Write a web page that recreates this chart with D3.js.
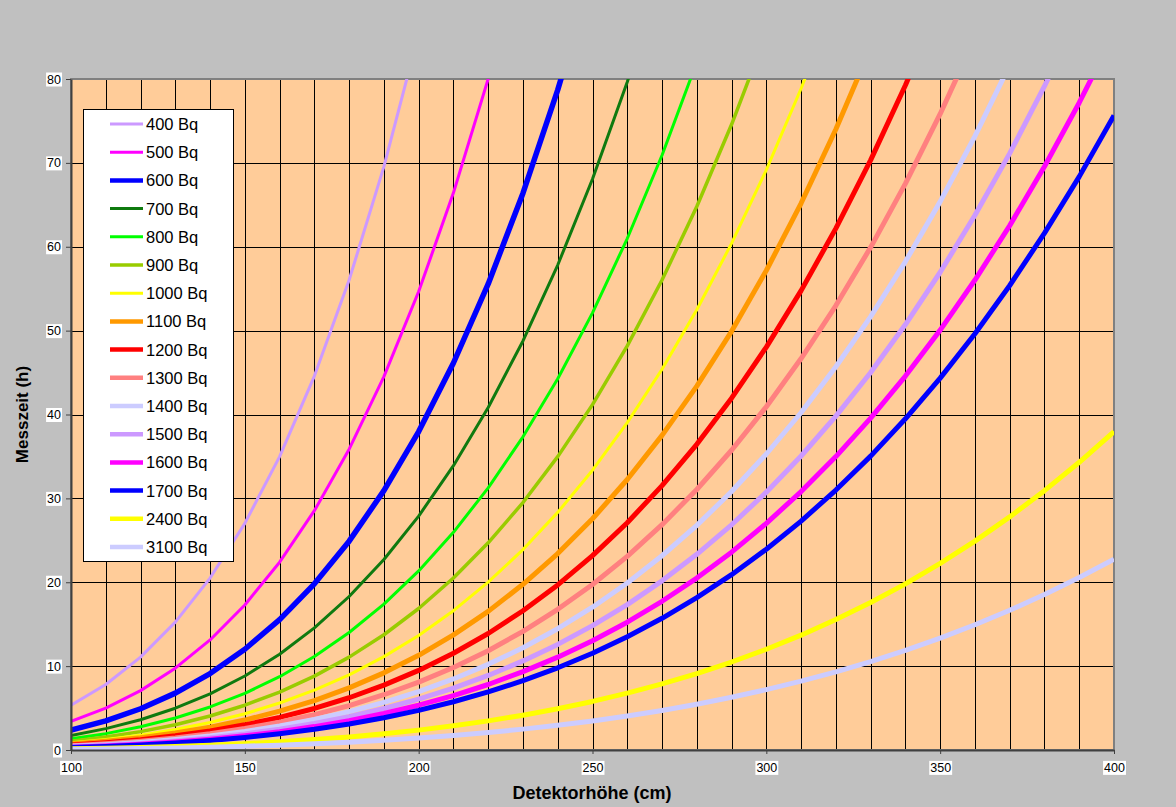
<!DOCTYPE html>
<html>
<head>
<meta charset="utf-8">
<script src="https://cdn.jsdelivr.net/npm/d3@7/dist/d3.min.js"></script>
<style>
  html, body { margin: 0; padding: 0; background: #c0c0c0; }
  svg { display: block; }
  text { font-family: "Liberation Sans", Arial, sans-serif; }
</style>
</head>
<body>
<svg id="chart" width="1176" height="807"></svg>
<script>
// Detektorhöhe (cm) für jeden Messpunkt
const hoehen = [100, 110, 120, 130, 140, 150, 160, 170, 180, 190, 200, 210, 220, 230, 240, 250,
                260, 270, 280, 290, 300, 310, 320, 330, 340, 350, 360, 370, 380, 390, 400];

// Messzeit (h) je Aktivität; jede Reihe endet mit dem ersten Wert oberhalb der Achse
const bq400  = [5.34, 7.81, 11.07, 15.24, 20.50, 27.02, 34.98, 44.58, 56.03, 69.56, 85.40];
const bq500  = [3.42, 5.00, 7.08, 9.76, 13.12, 17.29, 22.39, 28.53, 35.86, 44.52, 54.66, 66.43, 80.02, 95.59];
const bq600  = [2.37, 3.47, 4.92, 6.78, 9.11, 12.01, 15.55, 19.81, 24.90, 30.92, 37.96, 46.14, 55.57, 66.38, 78.70, 92.66];
const bq700  = [1.74, 2.55, 3.61, 4.98, 6.70, 8.82, 11.42, 14.56, 18.30, 22.71, 27.89, 33.90, 40.83, 48.77, 57.82, 68.08, 79.64, 92.62];
const bq800  = [1.33, 1.95, 2.77, 3.81, 5.13, 6.76, 8.74, 11.14, 14.01, 17.39, 21.35, 25.95, 31.26, 37.34, 44.27, 52.12, 60.98, 70.91, 82.02];
const bq900  = [1.05, 1.54, 2.19, 3.01, 4.05, 5.34, 6.91, 8.81, 11.07, 13.74, 16.87, 20.50, 24.70, 29.50, 34.98, 41.18, 48.18, 56.03, 64.80, 74.57, 85.40];
const bq1000 = [0.85, 1.25, 1.77, 2.44, 3.28, 4.32, 5.60, 7.13, 8.96, 11.13, 13.66, 16.61, 20.01, 23.90, 28.33, 33.36, 39.03, 45.39, 52.49, 60.40, 69.17, 78.87, 89.55];
const bq1100 = [0.71, 1.03, 1.46, 2.02, 2.71, 3.57, 4.63, 5.89, 7.41, 9.20, 11.29, 13.73, 16.53, 19.75, 23.42, 27.57, 32.25, 37.51, 43.38, 49.92, 57.17, 65.18, 74.01, 83.70];
const bq1200 = [0.59, 0.87, 1.23, 1.69, 2.28, 3.00, 3.89, 4.95, 6.23, 7.73, 9.49, 11.53, 13.89, 16.60, 19.68, 23.17, 27.10, 31.52, 36.45, 41.95, 48.04, 54.77, 62.19, 70.33, 79.25, 89.00];
const bq1300 = [0.51, 0.74, 1.05, 1.44, 1.94, 2.56, 3.31, 4.22, 5.30, 6.59, 8.09, 9.83, 11.84, 14.14, 16.77, 19.74, 23.09, 26.86, 31.06, 35.74, 40.93, 46.67, 52.99, 59.93, 67.53, 75.83, 84.88];
const bq1400 = [0.44, 0.64, 0.90, 1.24, 1.67, 2.21, 2.86, 3.64, 4.57, 5.68, 6.97, 8.47, 10.21, 12.19, 14.46, 17.02, 19.91, 23.16, 26.78, 30.82, 35.29, 40.24, 45.69, 51.67, 58.23, 65.38, 73.18, 81.66];
const bq1500 = [0.38, 0.56, 0.79, 1.08, 1.46, 1.92, 2.49, 3.17, 3.98, 4.95, 6.07, 7.38, 8.89, 10.62, 12.59, 14.83, 17.34, 20.17, 23.33, 26.85, 30.74, 35.05, 39.80, 45.01, 50.72, 56.96, 63.75, 71.13, 79.14, 87.81];
const bq1600 = [0.33, 0.49, 0.69, 0.95, 1.28, 1.69, 2.19, 2.79, 3.50, 4.35, 5.34, 6.49, 7.81, 9.34, 11.07, 13.03, 15.24, 17.73, 20.50, 23.59, 27.02, 30.81, 34.98, 39.56, 44.58, 50.06, 56.03, 62.52, 69.56, 77.17, 85.40];
const bq1700 = [0.30, 0.43, 0.61, 0.84, 1.14, 1.50, 1.94, 2.47, 3.10, 3.85, 4.73, 5.75, 6.92, 8.27, 9.80, 11.54, 13.50, 15.70, 18.16, 20.90, 23.94, 27.29, 30.99, 35.04, 39.49, 44.34, 49.63, 55.38, 61.62, 68.36, 75.65];
const bq2400 = [0.15, 0.22, 0.31, 0.42, 0.57, 0.75, 0.97, 1.24, 1.56, 1.93, 2.37, 2.88, 3.47, 4.15, 4.92, 5.79, 6.78, 7.88, 9.11, 10.49, 12.01, 13.69, 15.55, 17.58, 19.81, 22.25, 24.90, 27.79, 30.92, 34.30, 37.96];
const bq3100 = [0.09, 0.13, 0.18, 0.25, 0.34, 0.45, 0.58, 0.74, 0.93, 1.16, 1.42, 1.73, 2.08, 2.49, 2.95, 3.47, 4.06, 4.72, 5.46, 6.29, 7.20, 8.21, 9.32, 10.54, 11.88, 13.34, 14.93, 16.66, 18.53, 20.56, 22.75];

const reihenNamen = ["400 Bq", "500 Bq", "600 Bq", "700 Bq", "800 Bq", "900 Bq", "1000 Bq", "1100 Bq",
                     "1200 Bq", "1300 Bq", "1400 Bq", "1500 Bq", "1600 Bq", "1700 Bq", "2400 Bq", "3100 Bq"];
const reihenWerte = [bq400, bq500, bq600, bq700, bq800, bq900, bq1000, bq1100,
                     bq1200, bq1300, bq1400, bq1500, bq1600, bq1700, bq2400, bq3100];

const yTicks = [0, 10, 20, 30, 40, 50, 60, 70, 80];
const xTicks = [100, 150, 200, 250, 300, 350, 400];

// Linienfarbe und -stärke je Reihe
const farben = ["#cc99ff", "#ff00ff", "#0000ff", "#0f7a0f", "#00ff00", "#99cc00", "#ffff00", "#ff9900",
                "#ff0000", "#ff8080", "#ccccff", "#cc99ff", "#ff00ff", "#0000ff", "#ffff00", "#ccccff"];
const staerken = [3, 3, 5.5, 3, 3, 3.5, 3, 5, 5, 5, 5, 5, 5, 5, 5, 5];

const svg = d3.select("#chart");
const W = 1176, H = 807;
const plot = { left: 71, right: 1114, top: 79, bottom: 750 };

svg.append("rect").attr("width", W).attr("height", H).attr("fill", "#c0c0c0");

const x = d3.scaleLinear().domain([100, 400]).range([plot.left, plot.right]);
const y = d3.scaleLinear().domain([0, 80]).range([plot.bottom, plot.top]);

// Zeichenfläche
svg.append("rect")
  .attr("x", plot.left).attr("y", plot.top)
  .attr("width", plot.right - plot.left).attr("height", plot.bottom - plot.top)
  .attr("fill", "#ffcc99");

// Gitterlinien: senkrecht alle 10 cm, waagerecht alle 10 h
const gridV = d3.range(110, 400, 10);
const gridH = [10, 20, 30, 40, 50, 60, 70];
const grid = svg.append("g").attr("shape-rendering", "crispEdges");
grid.selectAll("line.v").data(gridV).join("line")
  .attr("x1", d => Math.round(x(d)) + 0.5).attr("x2", d => Math.round(x(d)) + 0.5)
  .attr("y1", plot.top).attr("y2", plot.bottom)
  .attr("stroke", "#000").attr("stroke-width", 1);
grid.selectAll("line.h").data(gridH).join("line")
  .attr("x1", plot.left).attr("x2", plot.right)
  .attr("y1", d => Math.round(y(d)) + 0.5).attr("y2", d => Math.round(y(d)) + 0.5)
  .attr("stroke", "#000").attr("stroke-width", 1);

// Rahmen der Zeichenfläche
svg.append("rect")
  .attr("x", plot.left).attr("y", plot.top)
  .attr("width", plot.right - plot.left).attr("height", plot.bottom - plot.top)
  .attr("fill", "none").attr("stroke", "#808080").attr("stroke-width", 2);

// Kurven
svg.append("clipPath").attr("id", "plotClip")
  .append("rect")
  .attr("x", plot.left).attr("y", plot.top)
  .attr("width", plot.right - plot.left).attr("height", plot.bottom - plot.top);

const line = d3.line()
  .x((d, i) => x(hoehen[i]))
  .y(d => y(d))
  .curve(d3.curveLinear);

const kurven = svg.append("g").attr("clip-path", "url(#plotClip)");
reihenWerte.forEach((werte, k) => {
  kurven.append("path")
    .attr("d", line(werte))
    .attr("fill", "none")
    .attr("stroke", farben[k])
    .attr("stroke-width", staerken[k])
    .attr("stroke-linejoin", "round")
    .attr("stroke-linecap", "butt");
});

// Achsen
function labelBoxes(g) {
  g.selectAll(".tick").each(function () {
    const t = d3.select(this).select("text");
    const bb = t.node().getBBox();
    d3.select(this).insert("rect", "text")
      .attr("x", bb.x - 1).attr("y", bb.y)
      .attr("width", bb.width + 2).attr("height", bb.height)
      .attr("fill", "#ffffff");
  });
}

const yAxis = svg.append("g")
  .attr("transform", `translate(${plot.left},0)`)
  .call(d3.axisLeft(y).tickValues(yTicks).tickSize(5).tickSizeOuter(0).tickPadding(5));
yAxis.select(".domain").attr("stroke", "#404040").attr("stroke-width", 2);
yAxis.selectAll(".tick line").attr("stroke", "#404040");
yAxis.selectAll(".tick text").attr("font-size", 12.5).attr("fill", "#000");
labelBoxes(yAxis);

const xAxis = svg.append("g")
  .attr("transform", `translate(0,${plot.bottom})`)
  .call(d3.axisBottom(x).tickValues(xTicks).tickSize(4).tickSizeOuter(0).tickPadding(9));
xAxis.select(".domain").attr("stroke", "#404040").attr("stroke-width", 2);
xAxis.selectAll(".tick line").attr("stroke", "#404040");
xAxis.selectAll(".tick text").attr("font-size", 12.5).attr("fill", "#000");
labelBoxes(xAxis);

// Achsentitel
svg.append("text")
  .attr("x", 592).attr("y", 799)
  .attr("text-anchor", "middle")
  .attr("font-size", 18).attr("font-weight", "bold")
  .text("Detektorhöhe (cm)");

svg.append("text")
  .attr("transform", `translate(28,${(plot.top + plot.bottom) / 2}) rotate(-90)`)
  .attr("text-anchor", "middle")
  .attr("font-size", 17).attr("font-weight", "bold")
  .text("Messzeit (h)");

// Legende
const leg = svg.append("g");
leg.append("rect")
  .attr("x", 83.5).attr("y", 109.5).attr("width", 150).attr("height", 452)
  .attr("fill", "#ffffff").attr("stroke", "#000").attr("stroke-width", 1);

const legY = d3.scaleLinear().domain([0, reihenNamen.length - 1]).range([124, 547]);
reihenNamen.forEach((name, k) => {
  const yy = legY(k);
  leg.append("line")
    .attr("x1", 110).attr("x2", 143).attr("y1", yy).attr("y2", yy)
    .attr("stroke", farben[k]).attr("stroke-width", Math.min(staerken[k], 4.5));
  leg.append("text")
    .attr("x", 146).attr("y", yy).attr("dy", "0.36em")
    .attr("font-size", 16.5).attr("fill", "#000")
    .text(name);
});
</script>
</body>
</html>
